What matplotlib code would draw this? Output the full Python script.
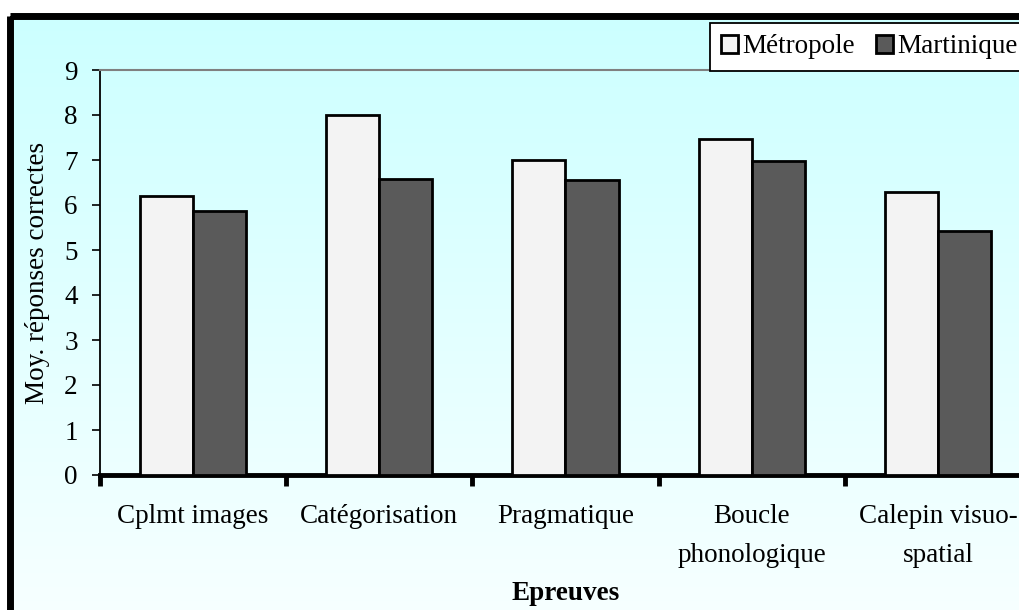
import numpy as np
import matplotlib
matplotlib.use("Agg")
import matplotlib.pyplot as plt
from matplotlib.patches import Rectangle, Patch

categories = ["Cplmt images", "Catégorisation", "Pragmatique",
              "Boucle\nphonologique", "Calepin visuo-\nspatial"]
series_names = ["Métropole", "Martinique"]
metropole = [6.2, 8.0, 7.0, 7.47, 6.29]
martinique = [5.87, 6.58, 6.55, 6.98, 5.42]
yticks = list(range(0, 10))

plt.rcParams['font.family'] = ['Liberation Serif', 'DejaVu Serif']
FS = 19.5

W, H = 1020, 610
fig = plt.figure(figsize=(W / 100, H / 100), dpi=100)
fig.patch.set_facecolor('white')

# background with gradient + black frame
bg = fig.add_axes([0, 0, 1, 1])
bg.set_xlim(0, W)
bg.set_ylim(H, 0)
bg.axis('off')
grad = np.linspace(0, 1, 256).reshape(-1, 1)
top = np.array([0xCC, 0xFF, 0xFF]) / 255
bot = np.array([0xF8, 0xFF, 0xFF]) / 255
img = top[None, None, :] * (1 - grad[:, :, None]) + bot[None, None, :] * grad[:, :, None]
bg.imshow(img, extent=[10, W + 20, H + 20, 16], aspect='auto', zorder=0)
bg.add_patch(Rectangle((10, 16), W + 20, H + 20, fill=False, edgecolor='black',
                       linewidth=5, zorder=1))

# main axes
left, right, ytop, ybot = 100, 1031, 70, 475
ax = fig.add_axes([left / W, 1 - ybot / H, (right - left) / W, (ybot - ytop) / H])
ax.set_facecolor('none')

x = np.arange(len(categories))
bw = 0.285
ax.bar(x - bw / 2, metropole, bw, color='#F3F3F3', edgecolor='black', linewidth=2.0,
       label=series_names[0], zorder=3)
ax.bar(x + bw / 2, martinique, bw, color='#5A5A5A', edgecolor='black', linewidth=2.0,
       label=series_names[1], zorder=3)

ax.set_xlim(-0.5, len(categories) - 0.5)
ax.set_ylim(0, 9)
ax.set_yticks(yticks)
ax.set_yticklabels([str(v) for v in yticks], fontsize=FS)
ax.tick_params(axis='y', direction='out', length=6, width=1.2, pad=10, colors='black')

ax.set_xticks(np.arange(-0.5, len(categories), 1.0))
ax.set_xticklabels([])
ax.tick_params(axis='x', which='major', direction='out', length=8, width=3.5)
ax.set_xticks(x, minor=True)
ax.set_xticklabels(categories, minor=True, fontsize=FS, linespacing=1.75, va='top')
ax.tick_params(axis='x', which='minor', length=0, pad=21)

ax.spines['bottom'].set_linewidth(3.5)
ax.spines['left'].set_linewidth(1.3)
ax.spines['top'].set_color('#808080')
ax.spines['top'].set_linewidth(1.5)
ax.spines['right'].set_visible(False)

ax.set_ylabel("Moy. réponses correctes", fontsize=FS, labelpad=10)
ax.set_xlabel("Epreuves", fontsize=FS, fontweight='bold', labelpad=9)

handles = [Patch(facecolor='#F3F3F3', edgecolor='black', linewidth=2.0),
           Patch(facecolor='#5A5A5A', edgecolor='black', linewidth=2.0)]
leg = fig.legend(handles, series_names, loc='upper left',
                 bbox_to_anchor=(710 / W, 1 - 23 / H), ncol=2, fontsize=FS,
                 frameon=True, fancybox=False, edgecolor='black', framealpha=1,
                 handlelength=0.62, handleheight=0.62, handletextpad=0.14,
                 columnspacing=0.8, borderpad=0.42, borderaxespad=0)
leg.get_frame().set_linewidth(1.3)
leg.set_zorder(10)

fig.savefig("out.png", dpi=100)
